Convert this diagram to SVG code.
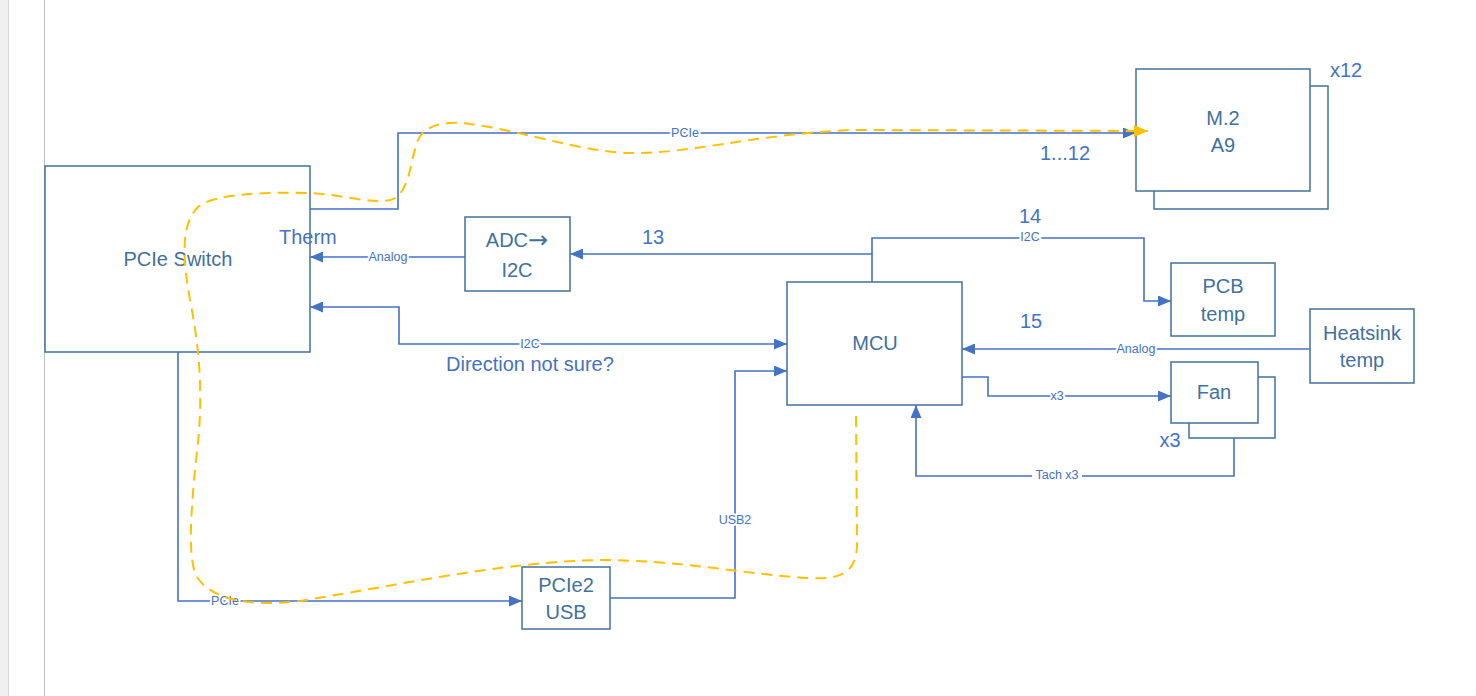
<svg xmlns="http://www.w3.org/2000/svg" width="1476" height="696" viewBox="0 0 1476 696">
<defs>
<style>
.box{fill:#fff;stroke:#41719C;stroke-width:1.5}
.bt{font-family:"Liberation Sans",Arial,sans-serif;font-size:20px;fill:#41719C;text-anchor:middle}
.an{font-family:"Liberation Sans",Arial,sans-serif;font-size:20px;fill:#4472C4}
.ln{fill:none;stroke:#4472C4;stroke-width:1.6}
.lb{font-family:"Liberation Sans",Arial,sans-serif;font-size:12.5px;fill:#4472C4;text-anchor:middle;stroke:#fff;stroke-width:4;paint-order:stroke;stroke-linejoin:round}
.yl{fill:none;stroke:#FFC000;stroke-width:2;stroke-dasharray:11 7}
</style>
<marker id="ab" viewBox="0 0 13 11" refX="13" refY="5.5" markerWidth="13" markerHeight="11" markerUnits="userSpaceOnUse" orient="auto-start-reverse">
<path d="M0,0 L13,5.5 L0,11 z" fill="#4472C4"/>
</marker>
<marker id="ay" viewBox="0 0 14 12" refX="14" refY="6" markerWidth="14" markerHeight="12" markerUnits="userSpaceOnUse" orient="auto">
<path d="M0,0 L14,6 L0,12 z" fill="#FFC000"/>
</marker>
</defs>
<rect x="0" y="0" width="1476" height="696" fill="#fff"/>
<rect x="0" y="0" width="8" height="696" fill="#f0f0f0"/>
<line x1="8.5" y1="0" x2="8.5" y2="696" stroke="#d6d6d6"/>
<line x1="44.5" y1="0" x2="44.5" y2="696" stroke="#c0c0c0"/>

<g id="node-pcie-switch"><rect class="box" x="45" y="166" width="265" height="186"/><text class="bt" x="178" y="266">PCIe Switch</text></g>
<g id="node-m2"><rect class="box" x="1154" y="86" width="174" height="123"/><rect class="box" x="1136" y="69" width="174" height="122"/><text class="bt" x="1223" y="125">M.2</text><text class="bt" x="1223" y="152">A9</text></g>
<g id="node-adc"><rect class="box" x="465" y="217" width="105" height="74"/><text class="bt" x="517" y="247">ADC<tspan font-family="DejaVu Sans,sans-serif" font-size="24" dy="1">→</tspan></text><text class="bt" x="517" y="277">I2C</text></g>
<g id="node-mcu"><rect class="box" x="787" y="282" width="175" height="123"/><text class="bt" x="875" y="350">MCU</text></g>
<g id="node-pcb-temp"><rect class="box" x="1171" y="263" width="104" height="73"/><text class="bt" x="1223" y="293">PCB</text><text class="bt" x="1223" y="321">temp</text></g>
<g id="node-heatsink"><rect class="box" x="1310" y="309" width="104" height="74"/><text class="bt" x="1362" y="340">Heatsink</text><text class="bt" x="1362" y="367">temp</text></g>
<g id="node-fan"><rect class="box" x="1189" y="377" width="86" height="61"/><rect class="box" x="1171" y="362" width="87" height="61"/><text class="bt" x="1214" y="399">Fan</text></g>
<g id="node-pcie2usb"><rect class="box" x="522" y="567" width="88" height="62"/><text class="bt" x="566" y="592">PCIe2</text><text class="bt" x="566" y="619">USB</text></g>

<g id="connectors">
<path class="ln" d="M310,209 H398 V133 H1136" marker-end="url(#ab)"/>
<path class="ln" d="M465,257 H310" marker-end="url(#ab)"/>
<path class="ln" d="M872,282 V254 H570" marker-end="url(#ab)"/>
<path class="ln" d="M872,254 V238 H1144 V301 H1171" marker-end="url(#ab)"/>
<path class="ln" d="M310,307 H399 V344 H787" marker-start="url(#ab)" marker-end="url(#ab)"/>
<path class="ln" d="M610,598 H735 V371 H787" marker-end="url(#ab)"/>
<path class="ln" d="M178,352 V601 H522" marker-end="url(#ab)"/>
<path class="ln" d="M1310,349 H962" marker-end="url(#ab)"/>
<path class="ln" d="M962,377 H988 V396 H1171" marker-end="url(#ab)"/>
<path class="ln" d="M1234,438 V476 H916 V405" marker-end="url(#ab)"/>
<rect x="1032" y="468" width="50" height="14" fill="#fff"/>
<text class="lb" x="685" y="137">PCIe</text>
<text class="lb" x="388" y="261">Analog</text>
<text class="lb" x="1030" y="241">I2C</text>
<text class="lb" x="530" y="348">I2C</text>
<text class="lb" x="735" y="524">USB2</text>
<text class="lb" x="225" y="605">PCIe</text>
<text class="lb" x="1136" y="353">Analog</text>
<text class="lb" x="1057" y="400">x3</text>
<text class="lb" x="1057" y="479">Tach x3</text>
</g>

<g id="annotations">
<text class="an" x="1330" y="77">x12</text>
<text class="an" x="1065" y="160" text-anchor="middle">1...12</text>
<text class="an" x="279" y="244">Therm</text>
<text class="an" x="653" y="244" text-anchor="middle">13</text>
<text class="an" x="1030" y="223" text-anchor="middle">14</text>
<text class="an" x="1031" y="328" text-anchor="middle">15</text>
<text class="an" x="1170" y="447" text-anchor="middle">x3</text>
<text class="an" x="446" y="371">Direction not sure?</text>
</g>

<path class="yl" d="M856,416 L857,540 C858,570 845,580 810,578 C750,575 680,560 600,560 C500,562 400,585 300,601 C250,607 212,600 197,577 C188,560 190,520 196,460 C204,400 200,350 190,300 C183,260 180,225 198,207 C215,193 270,192 310,193 C345,195 370,204 390,200 C410,195 410,160 418,140 C425,125 445,120 470,124 C520,130 580,152 630,153 C690,154 750,135 850,130 L1148,131" marker-end="url(#ay)"/>
</svg>
